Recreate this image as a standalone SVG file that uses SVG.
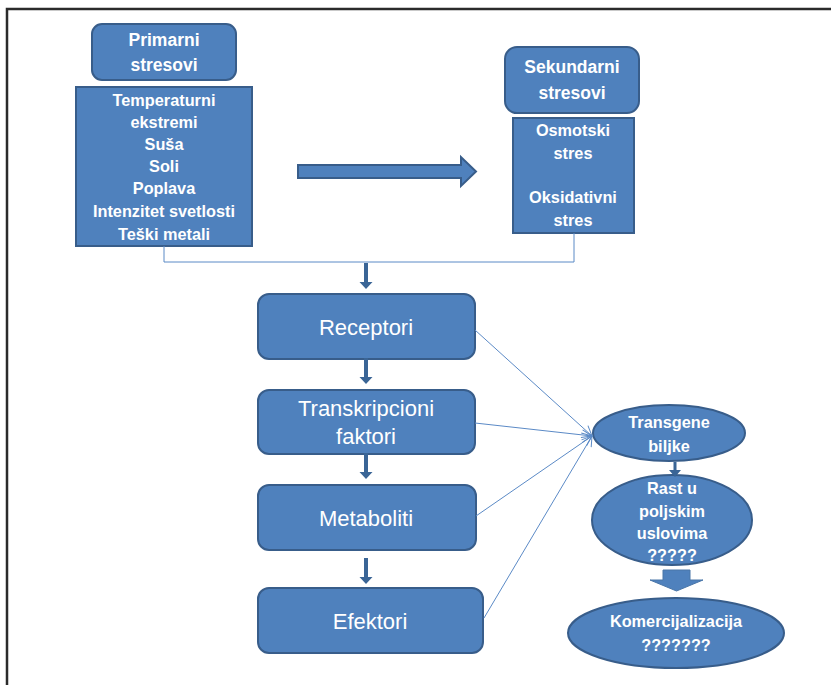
<svg xmlns="http://www.w3.org/2000/svg" width="831" height="685" viewBox="0 0 831 685">
  <style>
    .box { fill: #4f81bd; stroke: #385d8a; stroke-width: 2; }
    .t { font-family: "Liberation Sans", Arial, sans-serif; fill: #ffffff; text-anchor: middle; }
    .b { font-weight: bold; }
    .hd { font-size: 17.5px; }
    .ls { font-size: 16.3px; }
    .ov { font-size: 16.3px; }
    .st { font-size: 22px; }
    .thin { fill: none; stroke: #5b8ac6; stroke-width: 1; }
    .dn { fill: #3a6596; }
    .frame { fill: none; stroke: #2b2b2b; stroke-width: 2.5; }
  </style>
  <defs>
    <!-- downward thick arrow, tip at origin -->
    <path id="downArrow" d="M-2,-26 L2,-26 L2,-7 L6.5,-7 L0,0 L-6.5,-7 L-2,-7 Z"/>
    <marker id="openHead" viewBox="0 0 12 12" refX="11" refY="6" markerWidth="12" markerHeight="12" markerUnits="userSpaceOnUse" orient="auto">
      <path d="M1,1 L11,6 L1,11" fill="none" stroke="#5b8ac6" stroke-width="1"/>
    </marker>
  </defs>

  <rect width="831" height="685" fill="#ffffff"/>
  <!-- page frame: top and left rule -->
  <path class="frame" d="M7,685 L7,9 L831,9"/>

  <!-- primary stresses -->
  <g id="primarni-naslov">
    <rect class="box" x="92" y="24" width="144" height="56" rx="10"/>
    <text class="t b hd" x="164" y="46">Primarni</text>
    <text class="t b hd" x="164" y="71">stresovi</text>
  </g>
  <g id="primarni-lista">
    <rect class="box" x="76" y="87" width="176" height="159"/>
    <text class="t b ls" x="164" y="106">Temperaturni</text>
    <text class="t b ls" x="164" y="128">ekstremi</text>
    <text class="t b ls" x="164" y="150">Suša</text>
    <text class="t b ls" x="164" y="172">Soli</text>
    <text class="t b ls" x="164" y="194">Poplava</text>
    <text class="t b ls" x="164" y="217">Intenzitet svetlosti</text>
    <text class="t b ls" x="164" y="240">Teški metali</text>
  </g>

  <!-- secondary stresses -->
  <g id="sekundarni-naslov">
    <rect class="box" x="505" y="47" width="134" height="66" rx="12"/>
    <text class="t b hd" x="572" y="73">Sekundarni</text>
    <text class="t b hd" x="572" y="99">stresovi</text>
  </g>
  <g id="sekundarni-lista">
    <rect class="box" x="513" y="118" width="121" height="115"/>
    <text class="t b ov" x="573" y="136">Osmotski</text>
    <text class="t b ov" x="573" y="159">stres</text>
    <text class="t b ov" x="573" y="203">Oksidativni</text>
    <text class="t b ov" x="573" y="226">stres</text>
  </g>

  <!-- signalling chain -->
  <g id="receptori">
    <rect class="box" x="258" y="294" width="217" height="65" rx="11"/>
    <text class="t st" x="366" y="335">Receptori</text>
  </g>
  <g id="transkripcioni-faktori">
    <rect class="box" x="258" y="390" width="217" height="64" rx="11"/>
    <text class="t st" x="366" y="416">Transkripcioni</text>
    <text class="t st" x="366" y="444">faktori</text>
  </g>
  <g id="metaboliti">
    <rect class="box" x="258" y="485" width="218" height="65" rx="11"/>
    <text class="t st" x="366" y="526">Metaboliti</text>
  </g>
  <g id="efektori">
    <rect class="box" x="258" y="588" width="225" height="65" rx="11"/>
    <text class="t st" x="370" y="629">Efektori</text>
  </g>

  <!-- outcome ellipses -->
  <g id="transgene-biljke">
    <ellipse class="box" cx="669" cy="433" rx="76" ry="28"/>
    <text class="t b ov" x="669" y="428">Transgene</text>
    <text class="t b ov" x="669" y="452">biljke</text>
  </g>
  <g id="rast-u-poljskim-uslovima">
    <ellipse class="box" cx="672" cy="520" rx="80" ry="45"/>
    <text class="t b ov" x="672" y="494">Rast u</text>
    <text class="t b ov" x="672" y="517">poljskim</text>
    <text class="t b ov" x="672" y="539">uslovima</text>
    <text class="t b ov" x="672" y="561">?????</text>
  </g>
  <g id="komercijalizacija">
    <ellipse class="box" cx="676" cy="633" rx="108" ry="35"/>
    <text class="t b ov" x="676" y="627">Komercijalizacija</text>
    <text class="t b ov" x="676" y="651">???????</text>
  </g>

  <g id="connectors">
    <!-- block arrow from primary to secondary -->
    <path d="M298,165 L461,165 L461,157 L476,171.5 L461,186 L461,178 L298,178 Z" fill="#4f81bd" stroke="#385d8a" stroke-width="2"/>
    <!-- joining line under both stress groups -->
    <path class="thin" d="M164,246 L164,262 L574,262 L574,233"/>
    <!-- thick downward arrows along the chain -->
    <use href="#downArrow" class="dn" x="366" y="289"/>
    <use href="#downArrow" class="dn" x="366" y="384" transform="translate(0,0)"/>
    <use href="#downArrow" class="dn" x="366" y="479"/>
    <use href="#downArrow" class="dn" x="366" y="584"/>
    <!-- chain members feeding transgenic plants -->
    <line class="thin" x1="475" y1="330" x2="592" y2="436" marker-end="url(#openHead)"/>
    <line class="thin" x1="475" y1="423" x2="592" y2="436" marker-end="url(#openHead)"/>
    <line class="thin" x1="476" y1="516" x2="592" y2="436" marker-end="url(#openHead)"/>
    <line class="thin" x1="484" y1="618" x2="592" y2="436" marker-end="url(#openHead)"/>
    <!-- small arrow between the upper ellipses -->
    <path d="M673.5,462 L676.5,462 L676.5,470 L681,470 L675,477 L669,470 L673.5,470 Z" fill="#3a6596"/>
    <!-- block arrow towards commercialisation -->
    <path d="M663,570 L690,570 L690,580 L703,580 L676.5,591 L650,580 L663,580 Z" fill="#4f81bd" stroke="#4a76a8" stroke-width="1"/>
  </g>
</svg>
